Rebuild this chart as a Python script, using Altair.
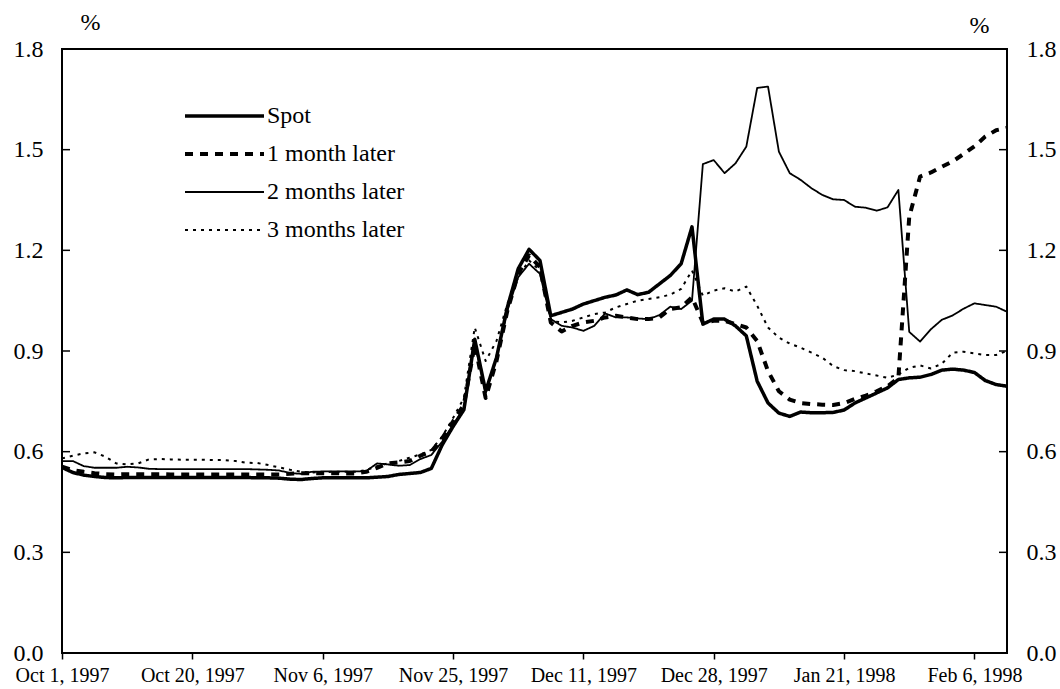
import altair as alt
import pandas as pd

# Daily observations (business days), Oct 1, 1997 - mid Feb 1998, in %
spot = [
    0.553, 0.538, 0.530, 0.526, 0.523, 0.522, 0.523, 0.523, 0.523, 0.523,
    0.523, 0.523, 0.523, 0.523, 0.523, 0.523, 0.523, 0.523, 0.522, 0.522,
    0.521, 0.518, 0.517, 0.520, 0.522, 0.522, 0.522, 0.522, 0.522, 0.524,
    0.526, 0.532, 0.535, 0.538, 0.550, 0.620, 0.675, 0.725, 0.935, 0.780,
    0.880, 1.030, 1.145, 1.203, 1.170, 1.005, 1.015, 1.025, 1.040, 1.050,
    1.060, 1.067, 1.082, 1.068, 1.075, 1.100, 1.125, 1.160, 1.270, 0.980,
    0.995, 0.995, 0.975, 0.945, 0.810, 0.745, 0.715, 0.705, 0.718, 0.716,
    0.716, 0.717, 0.724, 0.745, 0.760, 0.775, 0.790, 0.815, 0.820, 0.822,
    0.830, 0.843, 0.846, 0.843, 0.836, 0.812, 0.800, 0.795,
]
one_month = [
    0.555, 0.545, 0.540, 0.536, 0.533, 0.532, 0.533, 0.533, 0.533, 0.533,
    0.532, 0.532, 0.532, 0.532, 0.532, 0.532, 0.532, 0.532, 0.532, 0.532,
    0.532, 0.534, 0.536, 0.536, 0.536, 0.536, 0.535, 0.535, 0.540, 0.552,
    0.565, 0.568, 0.572, 0.588, 0.600, 0.640, 0.690, 0.740, 0.920, 0.760,
    0.870, 1.020, 1.130, 1.185, 1.150, 0.985, 0.958, 0.975, 0.985, 0.990,
    1.000, 1.005, 1.000, 0.995, 0.995, 1.000, 1.025, 1.030, 1.060, 0.985,
    0.990, 0.990, 0.980, 0.970, 0.930, 0.840, 0.780, 0.755, 0.745, 0.742,
    0.740, 0.739, 0.745, 0.757, 0.767, 0.780, 0.795, 0.820, 1.300, 1.420,
    1.432, 1.449, 1.465, 1.487, 1.510, 1.539, 1.558, 1.565,
]
two_months = [
    0.572, 0.572, 0.557, 0.552, 0.552, 0.552, 0.555, 0.553, 0.549, 0.548,
    0.548, 0.548, 0.548, 0.548, 0.548, 0.548, 0.548, 0.548, 0.547, 0.546,
    0.544, 0.536, 0.534, 0.540, 0.541, 0.541, 0.541, 0.541, 0.542, 0.565,
    0.562, 0.558, 0.560, 0.578, 0.590, 0.630, 0.680, 0.730, 0.925, 0.775,
    0.880, 1.020, 1.120, 1.160, 1.130, 0.995, 0.975, 0.970, 0.960, 0.975,
    1.012, 1.000, 1.000, 0.997, 0.995, 1.007, 1.032, 1.025, 1.050, 1.457,
    1.469, 1.430, 1.459, 1.509, 1.684, 1.688, 1.494, 1.430, 1.410, 1.385,
    1.365, 1.352, 1.350, 1.330, 1.327, 1.318, 1.328, 1.380, 0.957, 0.928,
    0.965, 0.993, 1.006, 1.026, 1.042, 1.037, 1.032, 1.017,
]
three_months = [
    0.580, 0.588, 0.595, 0.598, 0.585, 0.565, 0.562, 0.565, 0.577, 0.578,
    0.577, 0.576, 0.576, 0.576, 0.575, 0.575, 0.572, 0.567, 0.566, 0.560,
    0.553, 0.546, 0.540, 0.538, 0.539, 0.540, 0.540, 0.540, 0.545, 0.557,
    0.565, 0.572, 0.582, 0.592, 0.605, 0.645, 0.700, 0.760, 0.970, 0.870,
    0.930, 1.040, 1.120, 1.170, 1.140, 0.990, 0.985, 0.990, 1.000, 1.010,
    1.015, 1.030, 1.040, 1.050, 1.055, 1.060, 1.068, 1.085, 1.140, 1.065,
    1.080, 1.087, 1.077, 1.092, 1.035, 0.970, 0.940, 0.922, 0.910, 0.895,
    0.880, 0.855, 0.843, 0.840, 0.833, 0.827, 0.820, 0.830, 0.850, 0.857,
    0.848, 0.862, 0.895, 0.898, 0.893, 0.888, 0.888, 0.900,
]

series_names = ["Spot", "1 month later", "2 months later", "3 months later"]
date_labels = [
    "Oct 1, 1997", "Oct 20, 1997", "Nov 6, 1997", "Nov 25, 1997",
    "Dec 11, 1997", "Dec 28, 1997", "Jan 21, 1998", "Feb 6, 1998",
]
label_step = 12
y_ticks = [0.0, 0.3, 0.6, 0.9, 1.2, 1.5, 1.8]

# long table; Spot goes last so the thick line is drawn on top
rows = []
ordered = [
    ("3 months later", three_months),
    ("2 months later", two_months),
    ("1 month later", one_month),
    ("Spot", spot),
]
for name, vals in ordered:
    for i, v in enumerate(vals):
        rows.append({"idx": i, "value": v, "series": name})
df = pd.DataFrame(rows)
tick_df = pd.DataFrame({"tick": y_ticks})

W, H = 945, 604
FONT = "Liberation Serif"
n_obs = len(spot)

label_expr = (
    "[" + ",".join(f"'{t}'" for t in date_labels) + "]"
    + f"[round(datum.value / {label_step})]"
)

x_enc = alt.X(
    "idx:Q",
    scale=alt.Scale(domain=[0, n_obs - 1], nice=False, zero=False),
    axis=alt.Axis(
        values=[k * label_step for k in range(len(date_labels))],
        labelExpr=label_expr, title=None, domain=False, grid=False,
        tickSize=6, tickWidth=1.5, tickColor="black",
        labelFont=FONT, labelFontSize=20, labelColor="black",
        labelPadding=6, labelFlush=False, labelOverlap=False,
    ),
)

y_scale = alt.Scale(domain=[0, 1.8], nice=False, zero=False)

legend = alt.Legend(
    title=None, orient="none", legendX=121, legendY=49,
    symbolType="stroke", symbolSize=6241, symbolStrokeColor="black",
    clipHeight=36, rowPadding=2, padding=0,
    labelFont=FONT, labelFontSize=24, labelColor="black",
    labelOffset=1, labelLimit=400,
)

lines = alt.Chart(df).mark_line(color="black", strokeJoin="round").encode(
    x=x_enc,
    y=alt.Y("value:Q", scale=y_scale, axis=None),
    strokeDash=alt.StrokeDash(
        "series:N",
        scale=alt.Scale(domain=series_names, range=[[1, 0], [8, 7], [1, 0], [3, 5]]),
        legend=legend,
    ),
    strokeWidth=alt.StrokeWidth(
        "series:N",
        scale=alt.Scale(type="ordinal", domain=series_names, range=[3.5, 4, 1.8, 2]),
        legend=legend,
    ),
    detail="series:N",
)


def y_axis(orient, title_x, title_y):
    return alt.Axis(
        orient=orient, values=y_ticks, format=".1f", ticks=False, tickSize=0,
        domain=False, grid=False, labelPadding=19,
        labelFont=FONT, labelFontSize=24, labelColor="black",
        title="%", titleAngle=0, titleX=title_x, titleY=title_y,
        titleAlign="center", titleBaseline="middle",
        titleFont=FONT, titleFontSize=24, titleFontWeight="normal",
        titleColor="black",
    )


# inward-pointing y ticks, carrying the left and right axes
left_ticks = alt.Chart(tick_df).mark_rule(color="black", strokeWidth=1.5).encode(
    x=alt.value(0), x2=alt.value(8),
    y=alt.Y("tick:Q", scale=y_scale, axis=y_axis("left", 28, -27)),
)
right_ticks = alt.Chart(tick_df).mark_rule(color="black", strokeWidth=1.5).encode(
    x=alt.value(W - 8), x2=alt.value(W),
    y=alt.Y("tick:Q", scale=y_scale, axis=y_axis("right", -28, -24)),
)

chart = (
    alt.layer(lines, left_ticks, right_ticks)
    .resolve_scale(y="independent")
    .properties(
        width=W, height=H,
        autosize=alt.AutoSizeParams(type="none"),
        padding={"left": 62, "top": 49, "right": 53, "bottom": 36},
        background="white",
    )
    .configure_view(stroke="black", strokeWidth=2)
)

chart.save("out.html", embed_options={"renderer": "svg", "actions": False})
